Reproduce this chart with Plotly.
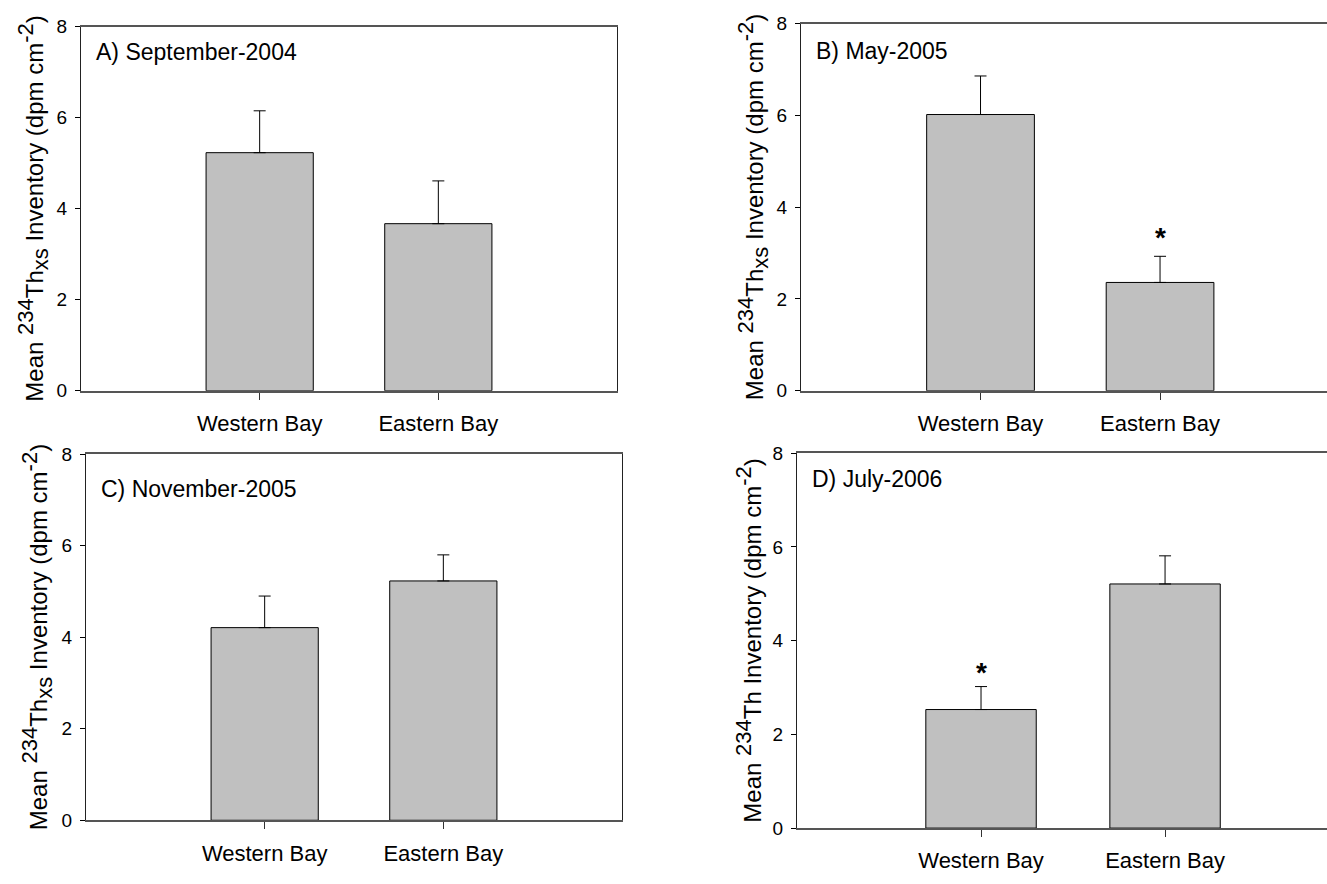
import plotly.graph_objects as go

categories = ["Western Bay", "Eastern Bay"]
cat_pos = [1, 2]

panel_labels = ["A) September-2004", "B) May-2005", "C) November-2005", "D) July-2006"]
means_A = [5.23, 3.67]
err_A = [0.92, 0.94]
means_B = [6.02, 2.36]
err_B = [0.84, 0.57]
means_C = [4.21, 5.23]
err_C = [0.69, 0.57]
means_D = [2.53, 5.21]
err_D = [0.49, 0.60]

star_B = [None, 3.33]
star_D = [3.33, None]

yticks = [0, 2, 4, 6, 8]

SS = '<span style="font-size:22px">'
title_xs = f"Mean <sup>{SS}234</span></sup>Th<sub>{SS}xs</span></sub> Inventory (dpm cm<sup>{SS}-2</span></sup>)"
title_th = f"Mean <sup>{SS}234</span></sup>Th Inventory (dpm cm<sup>{SS}-2</span></sup>)"

W, H = 1327, 884
FONT = "Liberation Sans, Arial, sans-serif"

panels = [
    dict(means=means_A, err=err_A, star=None, left=81, right=617, top=17, bottom=390, xmax=3.0, mirror=True, tx=33, title=title_xs, ly=0.93),
    dict(means=means_B, err=err_B, star=star_B, left=801, right=1327, top=14, bottom=390, xmax=2.93, mirror=False, tx=753, title=title_xs, ly=0.925),
    dict(means=means_C, err=err_C, star=None, left=86, right=622, top=455, bottom=830, xmax=3.0, mirror=True, tx=37, title=title_xs, ly=0.905),
    dict(means=means_D, err=err_D, star=star_D, left=797, right=1327, top=454, bottom=838, xmax=2.88, mirror=False, tx=749, title=title_th, ly=0.93),
]

fig = go.Figure()
annotations = []
for i, p in enumerate(panels):
    n = i + 1
    xa = "x" if n == 1 else f"x{n}"
    ya = "y" if n == 1 else f"y{n}"
    fig.add_trace(go.Bar(
        x=cat_pos, y=p["means"], width=0.6,
        marker=dict(color="#c0c0c0", line=dict(color="#000000", width=1)),
        error_y=dict(type="data", array=p["err"], arrayminus=[0, 0], symmetric=False,
                     color="#000000", thickness=1, width=6),
        xaxis=xa, yaxis=ya, showlegend=False,
    ))
    if p["star"] is not None:
        for xv, sv in zip(cat_pos, p["star"]):
            if sv is not None:
                annotations.append(dict(x=xv, y=sv, xref=xa, yref=ya, text="<b>*</b>",
                                        showarrow=False, font=dict(size=28, color="black", family=FONT),
                                        yanchor="middle"))
    xdom = [p["left"] / W, min(p["right"] / W, 1.0)]
    ydom = [1 - p["bottom"] / H, 1 - p["top"] / H]
    xkey = "xaxis" if n == 1 else f"xaxis{n}"
    ykey = "yaxis" if n == 1 else f"yaxis{n}"
    fig.layout[xkey] = dict(
        domain=xdom, range=[0, p["xmax"]], anchor=ya,
        tickmode="array", tickvals=cat_pos, ticktext=categories,
        ticks="outside", ticklen=7, tickcolor="#333", tickwidth=1,
        showline=True, linecolor="#555", linewidth=2, mirror=True,
        showgrid=False, zeroline=False, fixedrange=True,
        tickfont=dict(size=22, family=FONT, color="black"),
        ticklabelstandoff=5,
    )
    fig.layout[ykey] = dict(
        domain=ydom, range=[0, 8], anchor=xa,
        tickmode="array", tickvals=yticks,
        ticks="outside", ticklen=5, tickcolor="#000", tickwidth=1,
        showline=True, linecolor="#222", linewidth=1, mirror=p["mirror"],
        showgrid=False, zeroline=False, fixedrange=True,
        tickfont=dict(size=19, family=FONT, color="black"),
        ticklabelstandoff=4,
    )
    annotations.append(dict(x=0.025, y=p["ly"], xref=f"{xa} domain", yref=f"{ya} domain",
                            text=panel_labels[i], showarrow=False, xanchor="left", yanchor="middle",
                            font=dict(size=23, family=FONT, color="black")))
    annotations.append(dict(x=p["tx"] / W, y=(ydom[0] + ydom[1]) / 2, xref="paper", yref="paper",
                            text=p["title"], showarrow=False, textangle=-90,
                            xanchor="center", yanchor="middle",
                            font=dict(size=24, family=FONT, color="black")))

fig.update_layout(
    width=W, height=H, margin=dict(l=0, r=0, t=0, b=0),
    paper_bgcolor="white", plot_bgcolor="white",
    annotations=annotations, bargap=0.4,
)

fig.write_html("out.html")
